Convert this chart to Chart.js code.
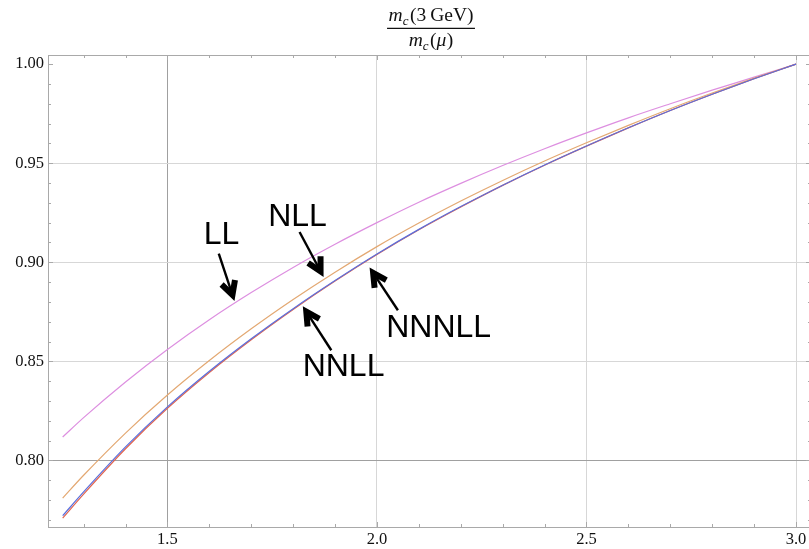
<!DOCTYPE html>
<html>
<head>
<meta charset="utf-8">
<script src="https://cdn.jsdelivr.net/npm/chart.js@4/dist/chart.umd.min.js"></script>
<style>
  html, body { margin: 0; padding: 0; background: #ffffff; }
  #wrap { width: 809px; height: 549px; }
</style>
</head>
<body>
<div id="wrap"><canvas id="c" width="809" height="549"></canvas></div>
<script>
// Renormalisation scale mu (GeV)
const mu = [1.25, 1.3, 1.4, 1.5, 1.6, 1.7, 1.8, 1.9, 2.0, 2.1, 2.2, 2.3, 2.4, 2.5, 2.6, 2.7, 2.8, 2.9, 3.0];

// m_c(3 GeV) / m_c(mu) at increasing logarithmic accuracy
const ratioLL    = [0.8118, 0.8216, 0.8396, 0.8560, 0.8710, 0.8847, 0.8974, 0.9091, 0.9200, 0.9303, 0.9398, 0.9488, 0.9573, 0.9653, 0.9729, 0.9800, 0.9869, 0.9934, 1.0000];
const ratioNLL   = [0.7810, 0.7925, 0.8138, 0.8330, 0.8504, 0.8664, 0.8812, 0.8950, 0.9079, 0.9198, 0.9309, 0.9413, 0.9511, 0.9603, 0.9691, 0.9775, 0.9854, 0.9929, 1.0000];
const ratioNNLL  = [0.7721, 0.7841, 0.8068, 0.8270, 0.8450, 0.8614, 0.8766, 0.8908, 0.9042, 0.9166, 0.9281, 0.9389, 0.9491, 0.9587, 0.9679, 0.9766, 0.9848, 0.9926, 1.0000];
const ratioNNNLL = [0.7709, 0.7830, 0.8059, 0.8263, 0.8444, 0.8609, 0.8762, 0.8905, 0.9039, 0.9164, 0.9279, 0.9388, 0.9490, 0.9586, 0.9678, 0.9766, 0.9848, 0.9926, 1.0000];

// Tick labels
const xTicks = [1.5, 2.0, 2.5, 3.0];
const yTicks = [0.80, 0.85, 0.90, 0.95, 1.00];

// Callouts: label and arrow given in data coordinates (mu, ratio)
const callouts = [
  { text: 'LL',    at: [1.629, 0.9091],  tail: [1.6225, 0.9044], tip: [1.660, 0.8805] },
  { text: 'NLL',   at: [1.8105, 0.9182], tail: [1.8153, 0.9153], tip: [1.8726, 0.8926] },
  { text: 'NNLL',  at: [1.9203, 0.8424], tail: [1.891, 0.8556],  tip: [1.8231, 0.8778] },
  { text: 'NNNLL', at: [2.1472, 0.8621], tail: [2.050, 0.8758],  tip: [1.9824, 0.8973] }
];

const pts = vals => mu.map((m, i) => ({ x: m, y: vals[i] }));

const FRAME = '#a9a9a9';
const AXIS = '#a0a0a0';
const GRID = '#d7d7d7';
const SERIF = '"Liberation Serif", "Times New Roman", serif';

// Inward ticks on all frame sides, plus the top frame line
const frameTicks = {
  id: 'frameTicks',
  beforeDatasetsDraw(chart) {
    const { ctx, chartArea: a, scales: { x, y } } = chart;
    ctx.save();
    ctx.strokeStyle = FRAME;
    ctx.lineWidth = 1;
    ctx.beginPath();
    ctx.moveTo(a.left, a.top + 0.5);
    ctx.lineTo(a.right + 4, a.top + 0.5);
    ctx.stroke();
    ctx.beginPath();
    for (let k = 13; k <= 30; k++) {
      const px = Math.round(x.getPixelForValue(k / 10)) + 0.5;
      const len = (k % 5 === 0) ? 5 : 3;
      ctx.moveTo(px, a.bottom); ctx.lineTo(px, a.bottom - len);
      ctx.moveTo(px, a.top); ctx.lineTo(px, a.top + len);
    }
    for (let k = 77; k <= 100; k++) {
      const py = Math.round(y.getPixelForValue(k / 100)) + 0.5;
      const len = (k % 5 === 0) ? 5 : 3;
      ctx.moveTo(a.left, py); ctx.lineTo(a.left + len, py);
      ctx.moveTo(a.right + 2, py); ctx.lineTo(a.right + 2 - len, py);
    }
    ctx.stroke();
    ctx.restore();
  }
};

// Curve labels with heavy arrows
const calloutPlugin = {
  id: 'callouts',
  afterDatasetsDraw(chart) {
    const { ctx, scales: { x, y } } = chart;
    const P = p => [x.getPixelForValue(p[0]), y.getPixelForValue(p[1])];
    ctx.save();
    ctx.fillStyle = '#000';
    ctx.strokeStyle = '#000';
    callouts.forEach(c => {
      const [lx, ly] = P(c.at);
      ctx.font = '32px "Liberation Sans", Arial, sans-serif';
      ctx.textAlign = 'center';
      ctx.textBaseline = 'alphabetic';
      ctx.fillText(c.text, lx, ly);

      const [tx, ty] = P(c.tail);
      const [hx, hy] = P(c.tip);
      const ang = Math.atan2(ty - hy, tx - hx);   // direction from tip back to tail
      const half = 28 * Math.PI / 180;
      const headW = 6;
      const inset = headW / (2 * Math.sin(half));
      const vx = hx + Math.cos(ang) * inset;
      const vy = hy + Math.sin(ang) * inset;
      ctx.lineWidth = 2.4;
      ctx.lineCap = 'butt';
      ctx.beginPath();
      ctx.moveTo(tx, ty);
      ctx.lineTo(vx, vy);
      ctx.stroke();
      const arm = 15;
      ctx.lineWidth = headW;
      ctx.lineJoin = 'miter';
      ctx.beginPath();
      ctx.moveTo(vx + Math.cos(ang - half) * arm, vy + Math.sin(ang - half) * arm);
      ctx.lineTo(vx, vy);
      ctx.lineTo(vx + Math.cos(ang + half) * arm, vy + Math.sin(ang + half) * arm);
      ctx.stroke();
    });
    ctx.restore();
  }
};

// Fraction title above the frame
const fractionTitle = {
  id: 'fractionTitle',
  afterDraw(chart) {
    const { ctx } = chart;
    const fItal = 'italic 19.5px ' + SERIF;
    const fSub = 'italic 13px ' + SERIF;
    const fRom = '19.5px ' + SERIF;
    const layout = parts => {
      let w = 0;
      parts.forEach(p => { ctx.font = p.f; p.w = ctx.measureText(p.t).width; w += p.w + (p.gap || 0); });
      return w;
    };
    const draw = (parts, cx, base) => {
      const w = layout(parts);
      let px = cx - w / 2;
      parts.forEach(p => { ctx.font = p.f; ctx.fillText(p.t, px, base + (p.dy || 0)); px += p.w + (p.gap || 0); });
      return w;
    };
    ctx.save();
    ctx.fillStyle = '#111';
    ctx.textAlign = 'left';
    ctx.textBaseline = 'alphabetic';
    const cx = 431;
    const num = [
      { t: 'm', f: fItal },
      { t: 'c', f: fSub, dy: 4, gap: 1.5 },
      { t: '(3', f: fRom, gap: 4 },
      { t: 'GeV)', f: fRom }
    ];
    const den = [
      { t: 'm', f: fItal },
      { t: 'c', f: fSub, dy: 4, gap: 1.5 },
      { t: '(', f: fRom },
      { t: 'μ', f: fItal, gap: 0.5 },
      { t: ')', f: fRom }
    ];
    const wn = draw(num, cx, 21);
    draw(den, cx, 46);
    ctx.strokeStyle = '#111';
    ctx.lineWidth = 1.3;
    ctx.beginPath();
    ctx.moveTo(cx - wn / 2 - 1.5, 28.3);
    ctx.lineTo(cx + wn / 2 + 1.5, 28.3);
    ctx.stroke();
    ctx.restore();
  }
};

const line = (data, color, order) => ({
  data: pts(data),
  borderColor: color,
  borderWidth: 1.2,
  pointRadius: 0,
  fill: false,
  cubicInterpolationMode: 'monotone',
  order
});

new Chart(document.getElementById('c'), {
  type: 'line',
  data: {
    datasets: [
      { label: 'LL', ...line(ratioLL, '#dd8fe0', 3) },
      { label: 'NLL', ...line(ratioNLL, '#e3a872', 2) },
      { label: 'NNLL', ...line(ratioNNLL, '#5b6fdc', 0) },
      { label: 'NNNLL', ...line(ratioNNNLL, '#e2654f', 1) }
    ]
  },
  options: {
    responsive: false,
    animation: false,
    devicePixelRatio: 1,
    layout: { padding: { top: 55, left: 0, right: 0, bottom: 0 } },
    plugins: { legend: { display: false }, tooltip: { enabled: false }, title: { display: false } },
    scales: {
      x: {
        type: 'linear',
        min: 1.215,
        max: 3.031,
        afterBuildTicks: s => { s.ticks = xTicks.map(v => ({ value: v })); },
        afterFit: s => { s.height = 22; s.paddingLeft = 0; s.paddingRight = 0; },
        ticks: {
          autoSkip: false, maxRotation: 0, padding: 3,
          color: '#111',
          font: { family: SERIF, size: 16.5 },
          callback: v => Number(v).toFixed(1)
        },
        grid: {
          drawTicks: false,
          lineWidth: 1,
          color: c => (c.tick && Math.abs(c.tick.value - 1.5) < 1e-9) ? AXIS : GRID
        },
        border: { display: true, color: FRAME, width: 1 }
      },
      y: {
        type: 'linear',
        min: 0.7664,
        max: 1.0046,
        afterBuildTicks: s => { s.ticks = yTicks.map(v => ({ value: v })); },
        afterFit: s => { s.width = 48; s.paddingTop = 0; s.paddingBottom = 0; },
        ticks: {
          autoSkip: false, padding: 4,
          color: '#111',
          font: { family: SERIF, size: 16.5 },
          callback: v => Number(v).toFixed(2)
        },
        grid: {
          drawTicks: false,
          lineWidth: 1,
          color: c => {
            if (!c.tick) return GRID;
            if (Math.abs(c.tick.value - 0.80) < 1e-9) return AXIS;
            if (Math.abs(c.tick.value - 1.00) < 1e-9) return 'rgba(0,0,0,0)';
            return GRID;
          }
        },
        border: { display: true, color: FRAME, width: 1 }
      }
    }
  },
  plugins: [frameTicks, calloutPlugin, fractionTitle]
});
</script>
</body>
</html>
